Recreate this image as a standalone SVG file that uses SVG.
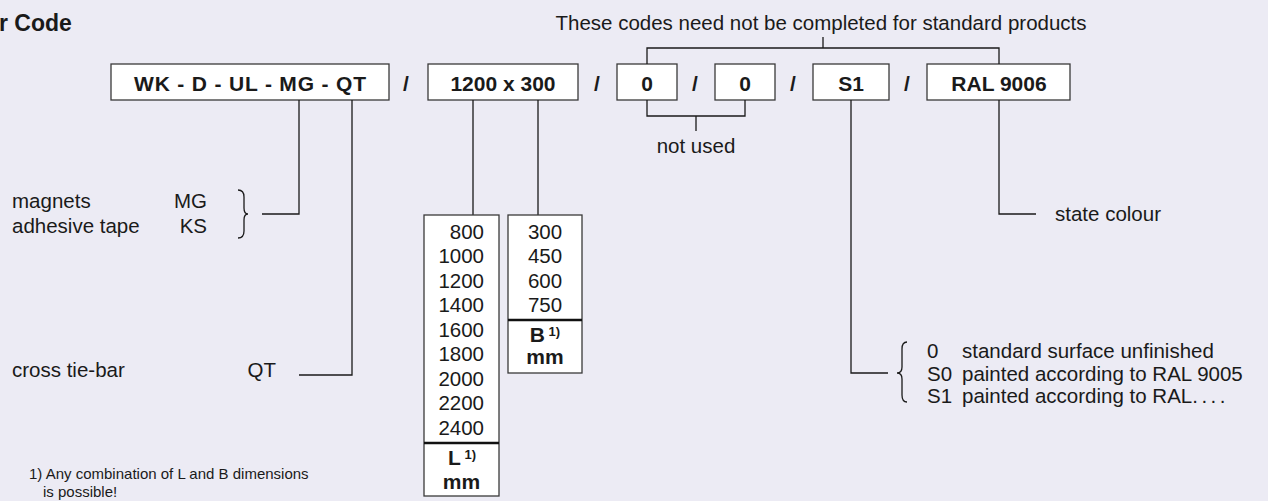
<svg xmlns="http://www.w3.org/2000/svg" width="1268" height="501" viewBox="0 0 1268 501">
<style>
text{font-family:"Liberation Sans",Arial,sans-serif;fill:#1a1a1a}
.t{font-size:20.5px}
.b{font-size:21px;font-weight:bold}
.box{fill:#fff;stroke:#3a3a3a;stroke-width:1.3}
.ln{fill:none;stroke:#1a1a1a;stroke-width:1.3}
.thick{stroke:#111;stroke-width:2.6}
.sup{font-size:13px;font-weight:bold}
</style>
<rect width="1268" height="501" fill="#ECEBF4"/>
<text x="-1" y="31" style="font-size:23px;font-weight:bold">r Code</text>
<text class="t" x="821" y="30" text-anchor="middle">These codes need not be completed for standard products</text>

<g id="slashes" class="b">
<text class="b" x="406" y="91" text-anchor="middle">/</text>
<text class="b" x="597" y="91" text-anchor="middle">/</text>
<text class="b" x="695" y="91" text-anchor="middle">/</text>
<text class="b" x="793" y="91" text-anchor="middle">/</text>
<text class="b" x="907" y="91" text-anchor="middle">/</text>
</g>

<g id="box-type"><rect class="box" x="111" y="64" width="278" height="36"/><text class="b" x="250" y="91" text-anchor="middle" textLength="232">WK - D - UL - MG - QT</text></g>
<g id="box-size"><rect class="box" x="428" y="64" width="150" height="36"/><text class="b" x="503" y="91" text-anchor="middle">1200 x 300</text></g>
<g id="box-0a"><rect class="box" x="617" y="64" width="60" height="36"/><text class="b" x="647" y="91" text-anchor="middle">0</text></g>
<g id="box-0b"><rect class="box" x="715" y="64" width="60" height="36"/><text class="b" x="745" y="91" text-anchor="middle">0</text></g>
<g id="box-s1"><rect class="box" x="813" y="64" width="76" height="36"/><text class="b" x="851" y="91" text-anchor="middle">S1</text></g>
<g id="box-ral"><rect class="box" x="927" y="64" width="143" height="36"/><text class="b" x="999" y="91" text-anchor="middle">RAL 9006</text></g>

<g id="connectors">
<path class="ln" d="M647,64 V48 H999 V64 M823,48 V37"/>
<path class="ln" d="M647,100 V116 H745 V100 M696,116 V131"/>
<path class="ln" d="M299,100 V214 H262"/>
<path class="ln" d="M352,100 V375 H299"/>
<path class="ln" d="M473,100 V215 M538,100 V215"/>
<path class="ln" d="M851,100 V373 H888"/>
<path class="ln" d="M999,100 V214 H1036"/>
<path class="ln" d="M238,190 Q244,190 244,197 V208 Q244,214 248,214 Q244,214 244,220 V231 Q244,238 238,238"/>
<path class="ln" d="M907,342 Q902,342 902,349 V367 Q902,373 897,373 Q902,373 902,379 V395 Q902,402 907,402"/>
</g>

<g id="not-used"><text class="t" x="696" y="153" text-anchor="middle">not used</text></g>

<g id="options-left">
<text class="t" x="12" y="208">magnets</text>
<text class="t" x="207" y="208" text-anchor="end">MG</text>
<text class="t" x="12" y="233">adhesive tape</text>
<text class="t" x="207" y="233" text-anchor="end">KS</text>
<text class="t" x="12" y="377">cross tie-bar</text>
<text class="t" x="276" y="377" text-anchor="end">QT</text>
</g>

<g id="l-column">
<rect class="box" x="424" y="215" width="75" height="281"/>
<line class="thick" x1="424" y1="443" x2="499" y2="443"/>
<g class="t" text-anchor="end">
<text class="t" x="484" y="238.5" text-anchor="end">800</text>
<text class="t" x="484" y="263" text-anchor="end">1000</text>
<text class="t" x="484" y="287.5" text-anchor="end">1200</text>
<text class="t" x="484" y="312" text-anchor="end">1400</text>
<text class="t" x="484" y="336.5" text-anchor="end">1600</text>
<text class="t" x="484" y="361" text-anchor="end">1800</text>
<text class="t" x="484" y="385.5" text-anchor="end">2000</text>
<text class="t" x="484" y="410" text-anchor="end">2200</text>
<text class="t" x="484" y="434.5" text-anchor="end">2400</text>
</g>
<text class="b" x="462" y="465" text-anchor="middle">L<tspan class="sup" dy="-6"> 1)</tspan></text>
<text class="b" x="461.5" y="489" text-anchor="middle">mm</text>
</g>

<g id="b-column">
<rect class="box" x="508" y="215" width="74" height="158"/>
<line class="thick" x1="508" y1="320" x2="582" y2="320"/>
<text class="t" x="545" y="238.5" text-anchor="middle">300</text>
<text class="t" x="545" y="263" text-anchor="middle">450</text>
<text class="t" x="545" y="287.5" text-anchor="middle">600</text>
<text class="t" x="545" y="312" text-anchor="middle">750</text>
<text class="b" x="545" y="342" text-anchor="middle">B<tspan class="sup" dy="-6"> 1)</tspan></text>
<text class="b" x="545" y="364" text-anchor="middle">mm</text>
</g>

<g id="surface">
<text class="t" x="927" y="358">0</text><text class="t" x="962" y="358">standard surface unfinished</text>
<text class="t" x="927" y="381">S0</text><text class="t" x="962" y="381">painted according to RAL 9005</text>
<text class="t" x="927" y="403">S1</text><text class="t" x="962" y="403">painted according to RAL<tspan letter-spacing="3.5">....</tspan></text>
</g>

<g id="colour"><text class="t" x="1055" y="221">state colour</text></g>

<g id="footnote">
<text x="29" y="479" style="font-size:15px">1) Any combination of L and B dimensions</text>
<text x="43" y="497" style="font-size:15px">is possible!</text>
</g>
</svg>
